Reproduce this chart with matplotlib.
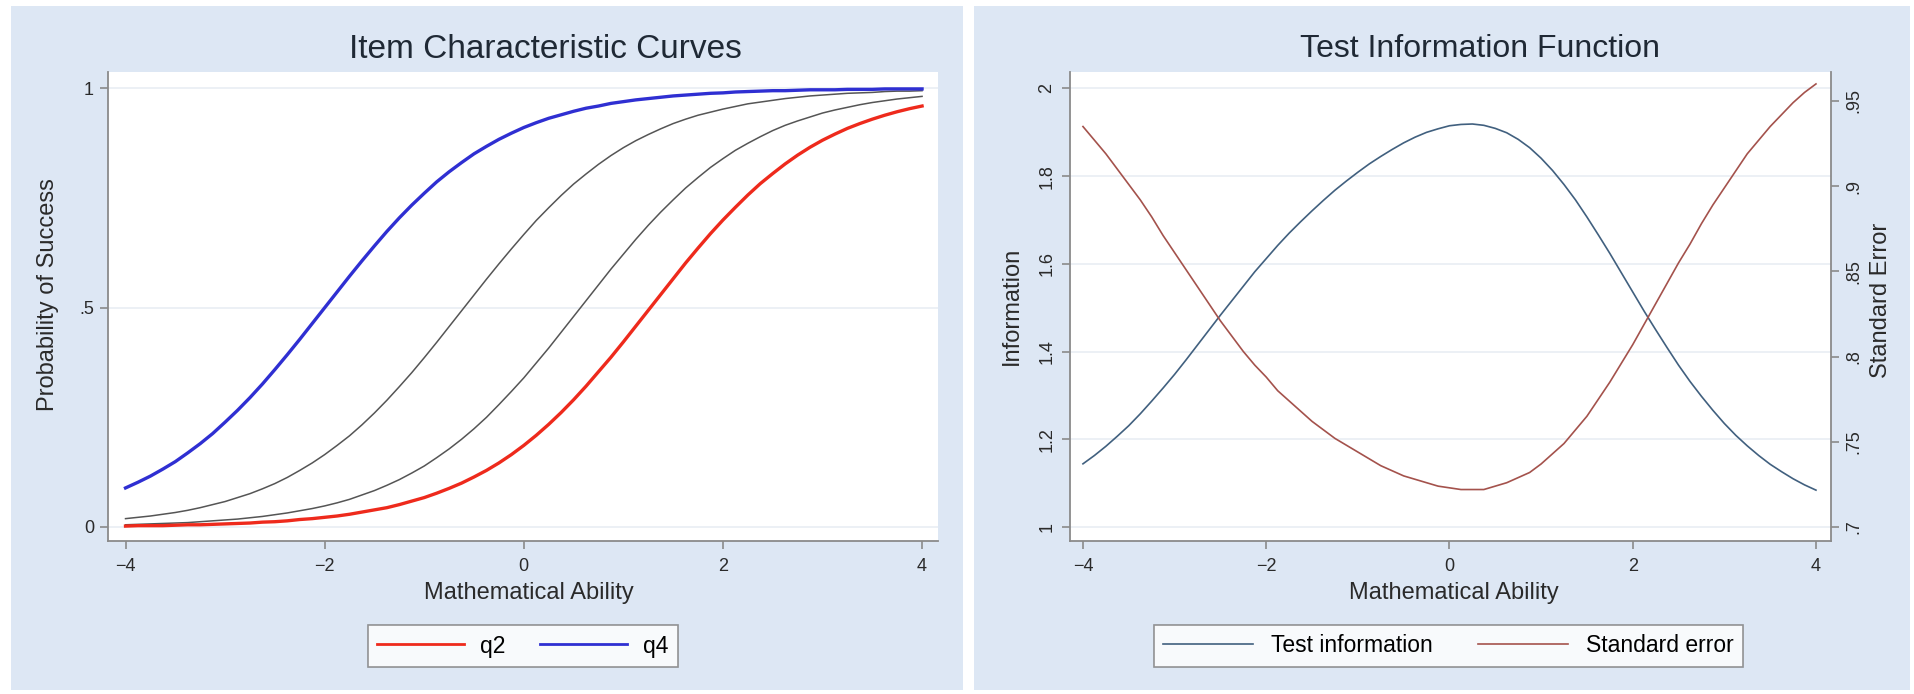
import matplotlib
matplotlib.use("Agg")
import matplotlib.pyplot as plt
from matplotlib.patches import Rectangle

plt.rcParams["font.family"] = ["Liberation Sans", "DejaVu Sans"]

# ability grid (x) shared by every curve
theta = [-4.0, -3.875, -3.75, -3.625, -3.5, -3.375, -3.25, -3.125, -3.0, -2.875, -2.75,
         -2.625, -2.5, -2.375, -2.25, -2.125, -2.0, -1.875, -1.75, -1.625, -1.5, -1.375,
         -1.25, -1.125, -1.0, -0.875, -0.75, -0.625, -0.5, -0.375, -0.25, -0.125, 0.0,
         0.125, 0.25, 0.375, 0.5, 0.625, 0.75, 0.875, 1.0, 1.125, 1.25, 1.375, 1.5,
         1.625, 1.75, 1.875, 2.0, 2.125, 2.25, 2.375, 2.5, 2.625, 2.75, 2.875, 3.0,
         3.125, 3.25, 3.375, 3.5, 3.625, 3.75, 3.875, 4.0]

# item characteristic curves (probability of success)
p_q4 = [0.089, 0.102, 0.116, 0.132, 0.149, 0.169, 0.190, 0.213, 0.239, 0.266, 0.295,
        0.326, 0.359, 0.393, 0.428, 0.464, 0.500, 0.536, 0.572, 0.607, 0.641, 0.674,
        0.705, 0.734, 0.761, 0.787, 0.810, 0.831, 0.851, 0.868, 0.884, 0.898, 0.911,
        0.922, 0.932, 0.940, 0.948, 0.955, 0.960, 0.966, 0.970, 0.974, 0.977, 0.980,
        0.983, 0.985, 0.987, 0.989, 0.990, 0.992, 0.993, 0.994, 0.995, 0.995, 0.996,
        0.997, 0.997, 0.997, 0.998, 0.998, 0.998, 0.999, 0.999, 0.999, 0.999]
p_q1 = [0.019, 0.022, 0.025, 0.029, 0.033, 0.038, 0.044, 0.051, 0.058, 0.067, 0.076,
        0.087, 0.099, 0.113, 0.129, 0.146, 0.165, 0.186, 0.208, 0.233, 0.260, 0.289,
        0.320, 0.352, 0.386, 0.421, 0.457, 0.493, 0.529, 0.565, 0.600, 0.634, 0.667,
        0.699, 0.728, 0.756, 0.782, 0.805, 0.827, 0.847, 0.865, 0.881, 0.895, 0.908,
        0.920, 0.930, 0.939, 0.946, 0.953, 0.959, 0.965, 0.969, 0.973, 0.977, 0.980,
        0.983, 0.985, 0.987, 0.989, 0.990, 0.991, 0.993, 0.994, 0.994, 0.995]
p_q3 = [0.005, 0.006, 0.007, 0.008, 0.009, 0.010, 0.012, 0.014, 0.016, 0.018, 0.021,
        0.024, 0.028, 0.032, 0.037, 0.042, 0.048, 0.055, 0.063, 0.073, 0.083, 0.095,
        0.108, 0.123, 0.139, 0.158, 0.178, 0.200, 0.224, 0.250, 0.279, 0.309, 0.340,
        0.374, 0.408, 0.444, 0.480, 0.516, 0.552, 0.588, 0.622, 0.656, 0.688, 0.718,
        0.746, 0.773, 0.797, 0.820, 0.840, 0.859, 0.875, 0.890, 0.904, 0.916, 0.926,
        0.935, 0.944, 0.951, 0.957, 0.963, 0.968, 0.972, 0.976, 0.979, 0.982]
p_q2 = [0.002, 0.003, 0.003, 0.003, 0.004, 0.005, 0.005, 0.006, 0.007, 0.008, 0.009,
        0.011, 0.012, 0.014, 0.017, 0.019, 0.022, 0.025, 0.029, 0.034, 0.039, 0.044,
        0.051, 0.059, 0.067, 0.077, 0.088, 0.100, 0.114, 0.129, 0.146, 0.165, 0.186,
        0.209, 0.234, 0.261, 0.290, 0.321, 0.354, 0.387, 0.422, 0.458, 0.494, 0.530,
        0.566, 0.602, 0.636, 0.669, 0.700, 0.729, 0.757, 0.783, 0.806, 0.828, 0.848,
        0.866, 0.882, 0.896, 0.909, 0.920, 0.930, 0.939, 0.947, 0.954, 0.960]

# test information and its standard error
test_info = [1.144, 1.163, 1.184, 1.207, 1.231, 1.258, 1.287, 1.317, 1.348, 1.381, 1.415,
             1.449, 1.483, 1.516, 1.549, 1.582, 1.612, 1.642, 1.670, 1.696, 1.721, 1.745,
             1.768, 1.789, 1.809, 1.828, 1.845, 1.861, 1.876, 1.889, 1.900, 1.908, 1.915,
             1.918, 1.919, 1.916, 1.909, 1.899, 1.884, 1.865, 1.841, 1.813, 1.781, 1.746,
             1.707, 1.666, 1.624, 1.580, 1.536, 1.492, 1.450, 1.409, 1.369, 1.332, 1.298,
             1.266, 1.236, 1.209, 1.185, 1.163, 1.143, 1.126, 1.110, 1.096, 1.084]
std_err = [0.935, 0.927, 0.919, 0.910, 0.901, 0.892, 0.882, 0.871, 0.861, 0.851, 0.841,
           0.831, 0.821, 0.812, 0.803, 0.795, 0.788, 0.780, 0.774, 0.768, 0.762, 0.757,
           0.752, 0.748, 0.744, 0.740, 0.736, 0.733, 0.730, 0.728, 0.726, 0.724, 0.723,
           0.722, 0.722, 0.722, 0.724, 0.726, 0.729, 0.732, 0.737, 0.743, 0.749, 0.757,
           0.765, 0.775, 0.785, 0.796, 0.807, 0.819, 0.831, 0.843, 0.855, 0.866, 0.878,
           0.889, 0.899, 0.909, 0.919, 0.927, 0.935, 0.942, 0.949, 0.955, 0.960]

x_ticks = [-4, -2, 0, 2, 4]
x_ticklabels = ["\u22124", "\u22122", "0", "2", "4"]
icc_ticks = [0, 0.5, 1]
icc_ticklabels = ["0", ".5", "1"]
info_ticks = [1, 1.2, 1.4, 1.6, 1.8, 2]
info_ticklabels = ["1", "1.2", "1.4", "1.6", "1.8", "2"]
se_ticks = [0.7, 0.75, 0.8, 0.85, 0.9, 0.95]
se_ticklabels = [".7", ".75", ".8", ".85", ".9", ".95"]

BG = "#dde7f4"
AXIS = "#8a8a8a"
GRID = "#e9eef3"
TXT = "#2a2a2a"

W, H = 1914, 694
fig = plt.figure(figsize=(W / 100, H / 100), dpi=100)
fig.patch.set_facecolor("white")

# light blue graph regions, kept behind the axes
for x0, w in [(11, 952), (974, 936)]:
    fig.add_artist(Rectangle((x0 / W, 4 / H), w / W, 684 / H, transform=fig.transFigure,
                             facecolor=BG, edgecolor="none", zorder=-5))


def px_axes(x0, x1, y0, y1):
    return fig.add_axes([x0 / W, 1 - y1 / H, (x1 - x0) / W, (y1 - y0) / H])


def style(ax):
    ax.set_facecolor("white")
    for s in ["top", "right"]:
        ax.spines[s].set_visible(False)
    for s in ["left", "bottom"]:
        ax.spines[s].set_color(AXIS)
        ax.spines[s].set_linewidth(1.3)
    ax.tick_params(colors=AXIS, labelcolor=TXT, length=6, width=1.2, labelsize=13)
    ax.tick_params(axis="x", pad=6)
    ax.set_xticks(x_ticks)
    ax.set_xticklabels(x_ticklabels)
    ax.yaxis.grid(True, color=GRID, linewidth=1.2)
    ax.set_axisbelow(True)


# ---- left: item characteristic curves ----
ax1 = px_axes(108, 938, 72, 541)
style(ax1)
ax1.plot(theta, p_q1, color="#555555", lw=1.1)
ax1.plot(theta, p_q3, color="#555555", lw=1.1)
ax1.plot(theta, p_q2, color="#ee2a1c", lw=2.4, label="q2")
ax1.plot(theta, p_q4, color="#2f2fd2", lw=2.4, label="q4")
ax1.set_xlim(-4.176, 4.16)
ax1.set_ylim(-0.032, 1.0376)
ax1.set_yticks(icc_ticks)
ax1.set_yticklabels(icc_ticklabels)
ax1.tick_params(axis="y", pad=4)
ax1.set_xlabel("Mathematical Ability", fontsize=17, color=TXT, va="center")
ax1.xaxis.set_label_coords(0.507, -0.111)
ax1.set_ylabel("Probability of Success", fontsize=17, color=TXT, va="center")
ax1.yaxis.set_label_coords(-0.072, 0.525)
fig.text(545 / W, 1 - 49 / H, "Item Characteristic Curves", ha="center", va="center",
         fontsize=24, color="#1f2935")
leg1 = ax1.legend(loc="center", bbox_to_anchor=(523 / W, 1 - 646 / H),
                  bbox_transform=fig.transFigure, ncol=2, fontsize=16.5, frameon=True,
                  fancybox=False, edgecolor="#7a7a7a", handlelength=3.8, handletextpad=0.7,
                  columnspacing=1.5, borderpad=0.4)
leg1.get_frame().set_linewidth(1.2)
for lh in leg1.get_lines():
    lh.set_linewidth(2.0)

# ---- right: test information function ----
ax2 = px_axes(1069.5, 1831, 72, 541)
style(ax2)
ax3 = ax2.twinx()
l_info, = ax2.plot(theta, test_info, color="#41607f", lw=1.2, label="Test information")
l_se, = ax3.plot(theta, std_err, color="#a4524c", lw=1.2, label="Standard error")
ax2.set_xlim(-4.147, 4.164)
ax2.set_ylim(0.968, 2.0376)
ax3.set_ylim(0.6918, 0.967)
ax2.set_yticks(info_ticks)
ax2.set_yticklabels(info_ticklabels, rotation=90, va="center")
ax2.tick_params(axis="y", pad=4)
ax3.set_yticks(se_ticks)
ax3.set_yticklabels(se_ticklabels, rotation=90, va="center")
for s in ["top", "left", "bottom"]:
    ax3.spines[s].set_visible(False)
ax3.spines["right"].set_color(AXIS)
ax3.spines["right"].set_linewidth(1.3)
ax3.tick_params(axis="y", colors=AXIS, labelcolor=TXT, length=6, width=1.2, labelsize=13, pad=4)
ax2.set_xlabel("Mathematical Ability", fontsize=17, color=TXT, va="center")
ax2.xaxis.set_label_coords(0.505, -0.111)
ax2.set_ylabel("Information", fontsize=17, color=TXT, va="center")
ax2.yaxis.set_label_coords(-0.0755, 0.501)
ax3.set_ylabel("Standard Error", fontsize=17, color=TXT, va="center", rotation=90)
ax3.yaxis.set_label_coords(1.0657, 0.512)
fig.text(1480 / W, 1 - 49 / H, "Test Information Function", ha="center", va="center",
         fontsize=23, color="#1f2935")
leg2 = ax2.legend([l_info, l_se], ["Test information", "Standard error"], loc="center",
                  bbox_to_anchor=(1448.5 / W, 1 - 646 / H), bbox_transform=fig.transFigure,
                  ncol=2, fontsize=16.5, frameon=True, fancybox=False, edgecolor="#7a7a7a",
                  handlelength=3.9, handletextpad=0.8, columnspacing=2.0, borderpad=0.4)
leg2.get_frame().set_linewidth(1.2)

fig.savefig("out.png", dpi=100, facecolor=fig.get_facecolor())
